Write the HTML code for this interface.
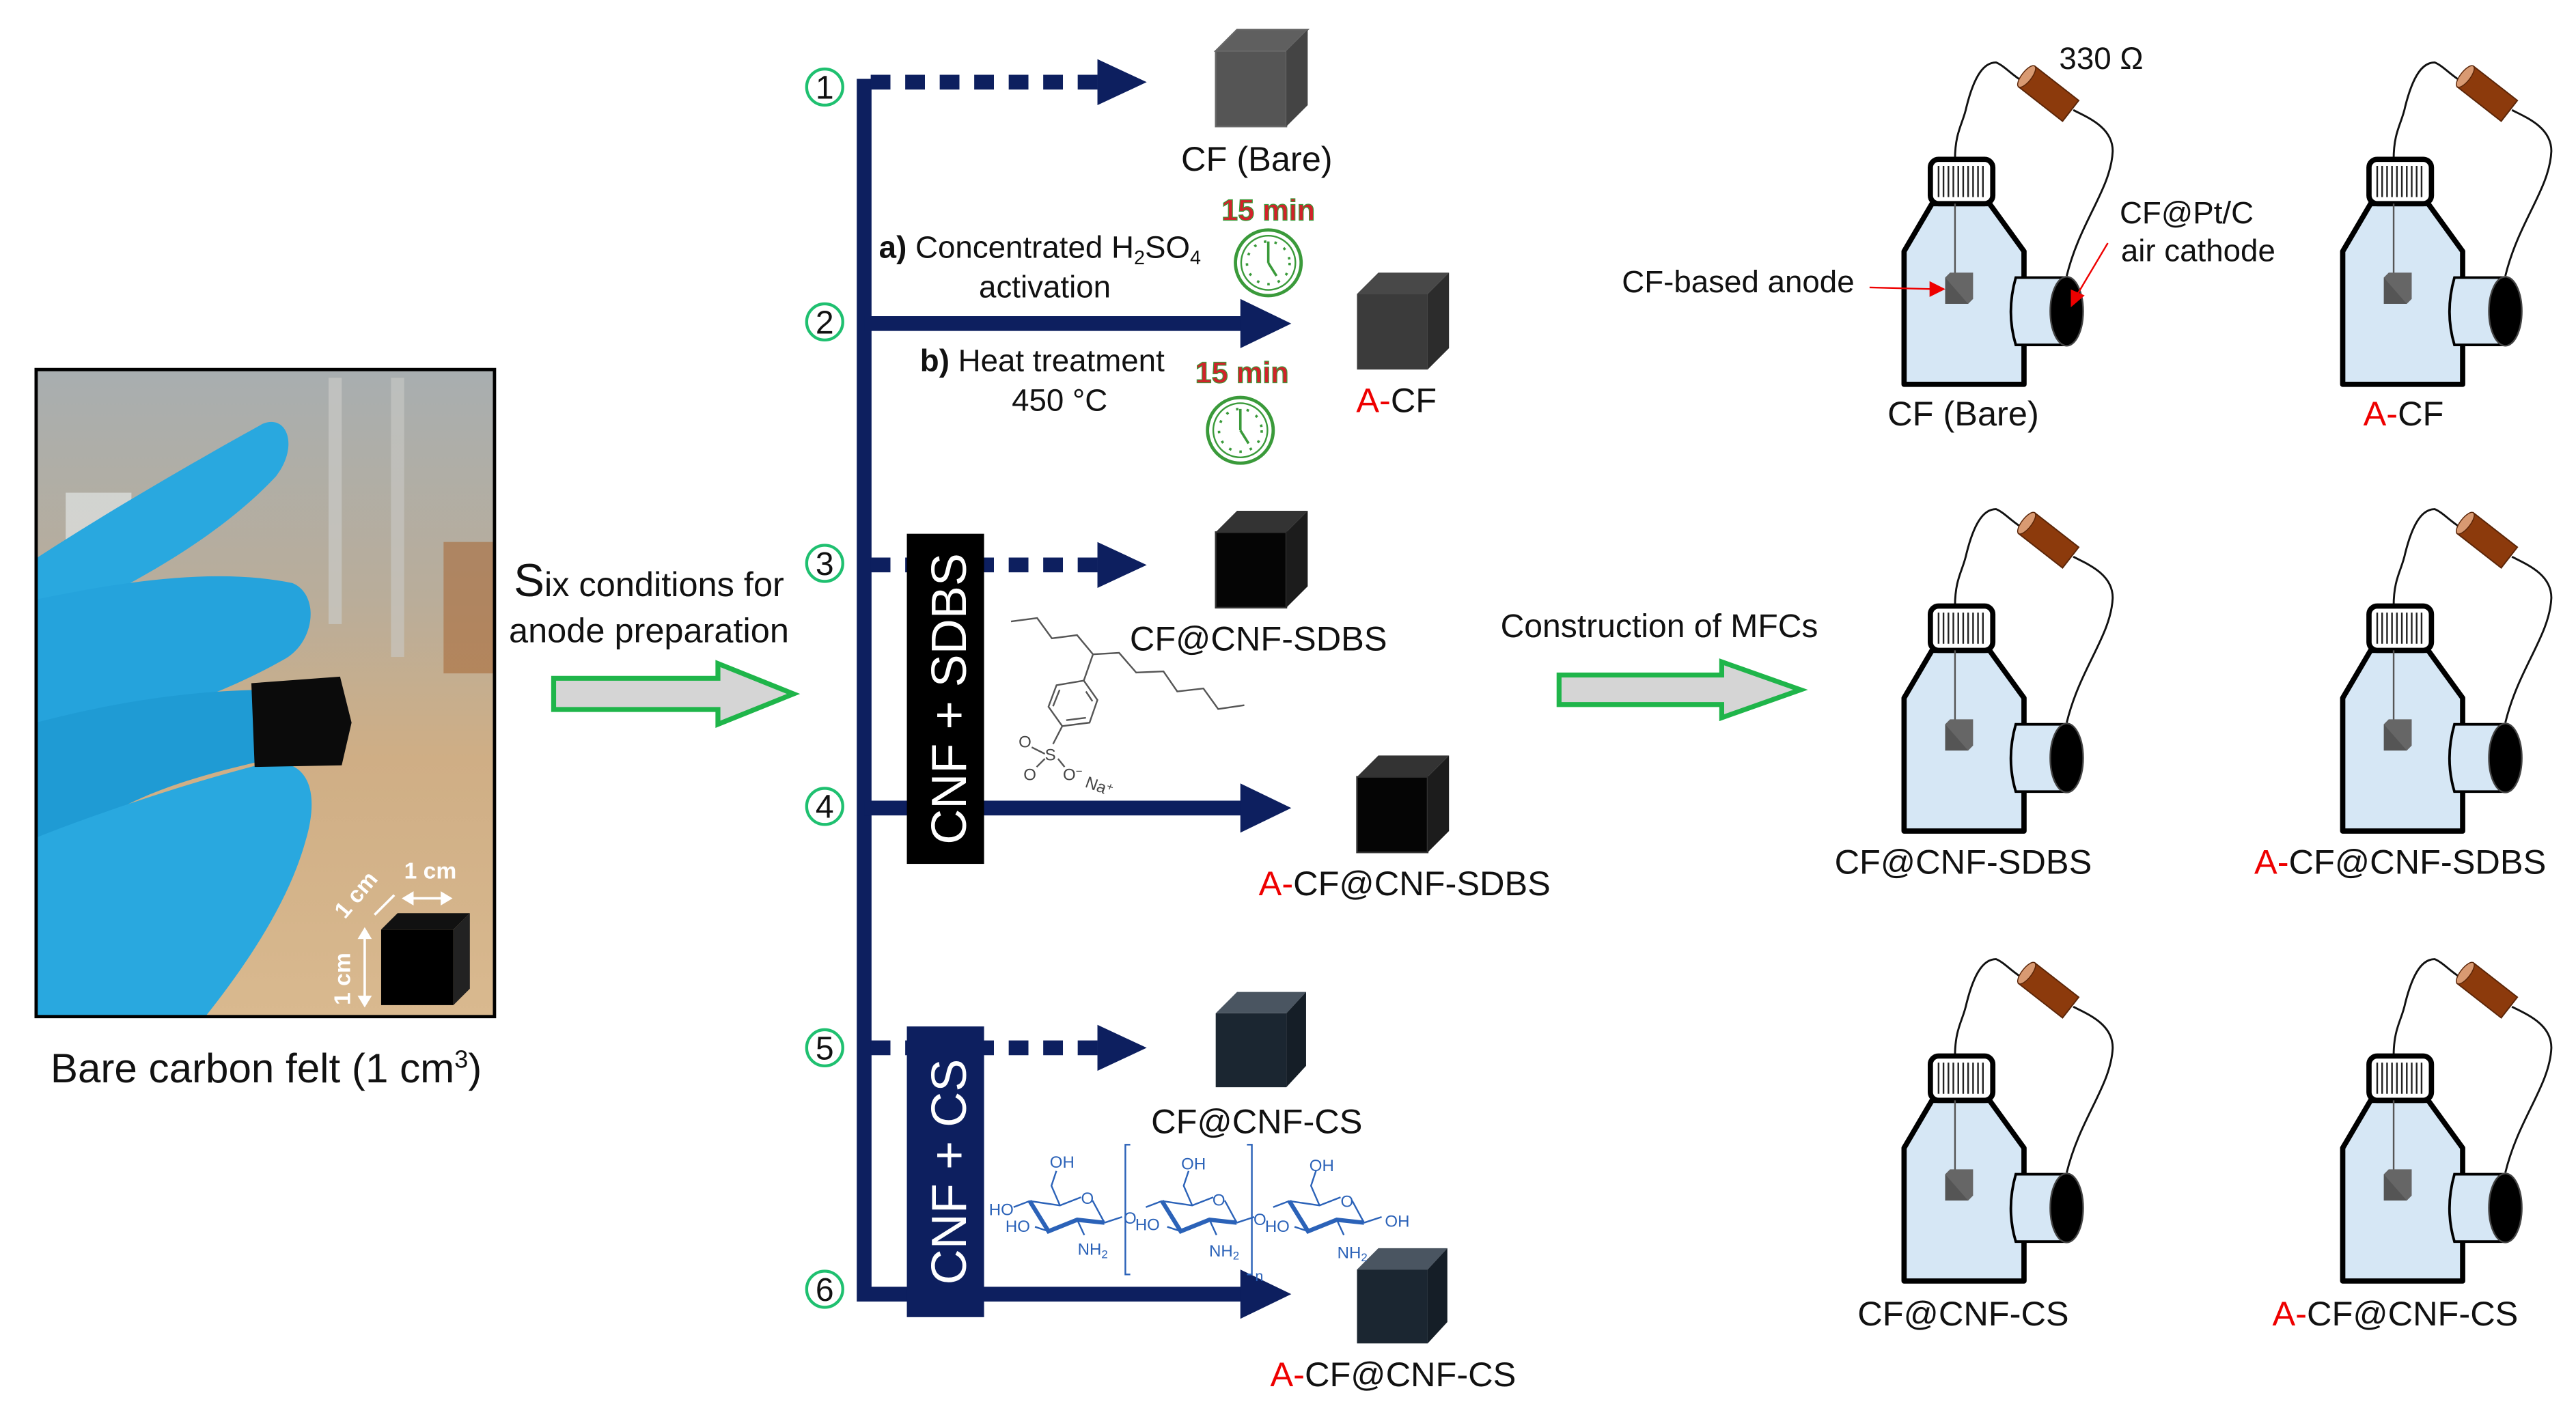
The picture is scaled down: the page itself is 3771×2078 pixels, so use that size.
<!DOCTYPE html>
<html><head><meta charset="utf-8">
<style>
html,body{margin:0;padding:0;background:#fff;}
svg{display:block;}
text{font-family:"Liberation Sans",Arial,sans-serif;}
</style></head>
<body>
<svg width="3771" height="2078" viewBox="0 0 1568 864" xmlns="http://www.w3.org/2000/svg">
<defs>
  <linearGradient id="bg" x1="0" y1="0" x2="0" y2="1">
    <stop offset="0" stop-color="#a8aeb0"/>
    <stop offset="0.35" stop-color="#b9ad9a"/>
    <stop offset="0.6" stop-color="#cfae85"/>
    <stop offset="1" stop-color="#d9b98f"/>
  </linearGradient>
  <g id="bottle">
    <path d="M1190,97 C1190,80 1195,75 1197,65 C1202,45 1208,38 1215,38 C1220,40 1225,46 1232,50" fill="none" stroke="#111" stroke-width="1.2"/>
    <path d="M1262,67 C1272,72 1286,78 1286,92 C1285,115 1266,135 1258,168" fill="none" stroke="#111" stroke-width="1.2"/>
    <g transform="translate(1247,57) rotate(38)">
      <rect x="-17" y="-8" width="34" height="16" fill="#8c3a0c" stroke="#5a2508" stroke-width="0.8"/>
      <ellipse cx="-17" cy="0" rx="3" ry="8" fill="#d99a72" stroke="#5a2508" stroke-width="0.6"/>
    </g>
    <path d="M1176,124 L1211,124 L1232,153 L1232,234 L1159,234 L1159,153 Z" fill="#d6e7f5" stroke="#000" stroke-width="3.2" stroke-linejoin="round"/>
    <path d="M1227,169 L1258,169 L1258,210 L1227,210 Q1221,190 1227,169 Z" fill="#d6e7f5" stroke="#000" stroke-width="1.6"/>
    <ellipse cx="1258" cy="189.5" rx="10" ry="21" fill="#000" stroke="#444" stroke-width="1"/>
    <rect x="1175" y="97" width="38" height="27" rx="5" fill="#fff" stroke="#000" stroke-width="3.2"/>
    <path d="M1180,101V120M1183,101V120M1186,101V120M1189,101V120M1192,101V120M1195,101V120M1198,101V120M1201,101V120M1204,101V120M1207,101V120" stroke="#222" stroke-width="1"/>
    <line x1="1190" y1="124" x2="1190" y2="168" stroke="#555" stroke-width="1"/>
    <rect x="1184" y="169" width="14" height="16" fill="#555"/>
    <path d="M1184,169 l3,-3 h14 v16 l-3,3" fill="#666"/>
  </g>
</defs>

<!-- ===== Photo ===== -->
<rect x="22" y="225" width="279" height="394" fill="url(#bg)"/>
<rect x="200" y="230" width="8" height="150" fill="#c9c9c6" opacity="0.7"/>
<rect x="238" y="230" width="8" height="170" fill="#c9c9c6" opacity="0.6"/>
<rect x="270" y="330" width="30" height="80" fill="#a86b3a" opacity="0.6"/>
<rect x="40" y="300" width="40" height="60" fill="#e8ecee" opacity="0.6"/>
<path d="M22,340 C60,315 120,280 160,258 C175,252 182,272 168,290 C140,320 100,345 60,365 L22,385 Z" fill="#29a8df"/>
<path d="M22,365 C70,355 130,345 178,355 C195,362 192,392 172,402 C140,420 110,430 80,440 L22,452 Z" fill="#25a3dc"/>
<path d="M22,440 C60,430 110,420 165,420 L165,462 C130,470 90,480 60,500 L22,520 Z" fill="#1f9bd4"/>
<path d="M22,510 C60,495 110,478 160,465 C188,460 195,482 186,512 C176,548 152,585 125,619 L22,619 Z" fill="#29a8df"/>
<path d="M153,416 L207,412 L214,440 L208,466 L155,467 Z" fill="#0b0b0b"/>
<rect x="232" y="566" width="44" height="46" fill="#000"/>
<path d="M232,566 l10,-10 h44 l-10,10 Z" fill="#111"/>
<path d="M276,566 l10,-10 v46 l-10,10 Z" fill="#222"/>
<g stroke="#fff" stroke-width="1.5" fill="#fff">
  <line x1="248" y1="547" x2="272" y2="547"/>
  <path d="M246,547 l5,-3 v6z M274,547 l-5,-3 v6z"/>
  <line x1="222" y1="568" x2="222" y2="610"/>
  <path d="M222,566 l-3,5 h6z M222,612 l-3,-5 h6z"/>
  <line x1="228" y1="557" x2="240" y2="545"/>
</g>
<text x="246" y="535" font-family="Liberation Serif,serif" font-weight="bold" font-size="14" fill="#fff">1 cm</text>
<text transform="translate(210,560) rotate(-50)" font-family="Liberation Serif,serif" font-weight="bold" font-size="14" fill="#fff">1 cm</text>
<text transform="translate(213,612) rotate(-90)" font-family="Liberation Serif,serif" font-weight="bold" font-size="14" fill="#fff">1 cm</text>
<rect x="22" y="225" width="279" height="394" fill="none" stroke="#000" stroke-width="2"/>
<text x="162" y="659" font-size="25" text-anchor="middle" fill="#111">Bare carbon felt (1 cm<tspan font-size="15" dy="-9">3</tspan><tspan dy="9">)</tspan></text>

<text x="395" y="363" font-size="21" text-anchor="middle" fill="#111"><tspan font-size="28">S</tspan>ix conditions for</text>
<text x="395" y="391" font-size="21" text-anchor="middle" fill="#111">anode preparation</text>
<path d="M337,413 L437,413 L437,404 L483,422.5 L437,441 L437,432 L337,432 Z" fill="#d5d5d5" stroke="#1fb54a" stroke-width="3"/>

<!-- ===== trunk ===== -->
<path d="M526,48 L526,788 L757,788" fill="none" stroke="#0d1f5f" stroke-width="9"/>
<g stroke="#0d1f5f" stroke-width="9" fill="none">
  <line x1="530" y1="50" x2="672" y2="50" stroke-dasharray="12 9"/>
  <line x1="530" y1="344" x2="672" y2="344" stroke-dasharray="12 9"/>
  <line x1="530" y1="638" x2="672" y2="638" stroke-dasharray="12 9"/>
  <line x1="526" y1="197" x2="758" y2="197"/>
  <line x1="526" y1="492" x2="758" y2="492"/>
</g>
<g fill="#0d1f5f">
  <path d="M668,36 L698,50 L668,64Z"/>
  <path d="M668,330 L698,344 L668,358Z"/>
  <path d="M668,624 L698,638 L668,652Z"/>
  <path d="M755,182 L786,197 L755,212Z"/>
  <path d="M755,477 L786,492 L755,507Z"/>
  <path d="M755,773 L786,788 L755,803Z"/>
</g>
<g font-size="20" text-anchor="middle" fill="#111">
  <circle cx="502" cy="53" r="11" fill="#fff" stroke="#1fc070" stroke-width="1.8"/><text x="502" y="60">1</text>
  <circle cx="502" cy="196" r="11" fill="#fff" stroke="#1fc070" stroke-width="1.8"/><text x="502" y="203">2</text>
  <circle cx="502" cy="343" r="11" fill="#fff" stroke="#1fc070" stroke-width="1.8"/><text x="502" y="350">3</text>
  <circle cx="502" cy="491" r="11" fill="#fff" stroke="#1fc070" stroke-width="1.8"/><text x="502" y="498">4</text>
  <circle cx="502" cy="638" r="11" fill="#fff" stroke="#1fc070" stroke-width="1.8"/><text x="502" y="645">5</text>
  <circle cx="502" cy="785" r="11" fill="#fff" stroke="#1fc070" stroke-width="1.8"/><text x="502" y="792">6</text>
</g>

<rect x="552" y="325" width="47" height="201" fill="#000"/>
<text transform="translate(588,425.5) rotate(-90)" font-size="30" text-anchor="middle" fill="#fff">CNF + SDBS</text>
<rect x="552" y="625" width="47" height="177" fill="#0d1f5f"/>
<text transform="translate(588,713.5) rotate(-90)" font-size="30" text-anchor="middle" fill="#fff">CNF + CS</text>

<text x="535" y="157" font-size="19" fill="#111"><tspan font-weight="bold">a)</tspan> Concentrated H<tspan font-size="12" dy="4">2</tspan><tspan dy="-4">SO</tspan><tspan font-size="12" dy="4">4</tspan></text>
<text x="636" y="181" font-size="19" text-anchor="middle" fill="#111">activation</text>
<text x="560" y="226" font-size="19" fill="#111"><tspan font-weight="bold">b)</tspan> Heat treatment</text>
<text x="645" y="250" font-size="19" text-anchor="middle" fill="#111">450 °C</text>
<text x="772" y="134" font-size="18" font-weight="bold" text-anchor="middle" fill="#d2222a" stroke="#3a9a3a" stroke-width="0.5">15 min</text>
<text x="756" y="233" font-size="18" font-weight="bold" text-anchor="middle" fill="#d2222a" stroke="#3a9a3a" stroke-width="0.5">15 min</text>
<g fill="#fff" stroke="#3a9a3a">
  <circle cx="772" cy="160" r="20" stroke-width="2"/><circle cx="772" cy="160" r="16.5" stroke-width="1"/>
  <circle cx="772" cy="160" r="13" stroke-width="1.5" stroke-dasharray="1.5 5" fill="none"/>
  <path d="M772,160 V147 M772,160 L777,168" stroke-width="1.5" fill="none"/>
  <circle cx="755" cy="262" r="20" stroke-width="2"/><circle cx="755" cy="262" r="16.5" stroke-width="1"/>
  <circle cx="755" cy="262" r="13" stroke-width="1.5" stroke-dasharray="1.5 5" fill="none"/>
  <path d="M755,262 V249 M755,262 L760,270" stroke-width="1.5" fill="none"/>
</g>

<g>
  <rect x="740" y="31" width="43" height="46" fill="#555" stroke="#666"/><path d="M740,31 L753,18 L796,18 L783,31Z" fill="#5f5f5f" stroke="#666"/><path d="M783,31 L796,18 L796,64 L783,77Z" fill="#444"/>
  <rect x="826" y="179" width="43" height="46" fill="#3b3b3b"/><path d="M826,179 L839,166 L882,166 L869,179Z" fill="#484848"/><path d="M869,179 L882,166 L882,212 L869,225Z" fill="#2c2c2c"/>
  <rect x="740" y="324" width="43" height="46" fill="#050505" stroke="#333"/><path d="M740,324 L753,311 L796,311 L783,324Z" fill="#333"/><path d="M783,324 L796,311 L796,357 L783,370Z" fill="#1c1c1c"/>
  <rect x="826" y="473" width="43" height="46" fill="#050505" stroke="#333"/><path d="M826,473 L839,460 L882,460 L869,473Z" fill="#333"/><path d="M869,473 L882,460 L882,506 L869,519Z" fill="#1c1c1c"/>
  <rect x="740" y="617" width="43" height="45" fill="#1b2631"/><path d="M740,617 L753,604 L795,604 L783,617Z" fill="#4a5561"/><path d="M783,617 L795,604 L795,649 L783,662Z" fill="#151e27"/>
  <rect x="826" y="773" width="43" height="45" fill="#1b2631"/><path d="M826,773 L839,760 L881,760 L869,773Z" fill="#4a5561"/><path d="M869,773 L881,760 L881,805 L869,818Z" fill="#151e27"/>
</g>
<g font-size="21" text-anchor="middle" fill="#111">
  <text x="765" y="104">CF (Bare)</text>
  <text x="850" y="251"><tspan fill="#e00">A-</tspan>CF</text>
  <text x="766" y="396">CF@CNF-SDBS</text>
  <text x="855" y="545"><tspan fill="#e00">A-</tspan>CF@CNF-SDBS</text>
  <text x="765" y="690">CF@CNF-CS</text>
  <text x="848" y="844"><tspan fill="#e00">A-</tspan>CF@CNF-CS</text>
</g>

<g stroke="#555" stroke-width="1" fill="none">
  <polyline points="615.4,378.4 631.3,376.3 640.3,388.7 655.6,386.7 665.3,398.4 681.2,397.5 691.6,409.5 708.2,408.8 716.6,421 732.5,419.2 741.5,431.7 757.4,429.4"/>
  <line x1="665.3" y1="398.4" x2="659.7" y2="414.4"/>
  <polygon points="659.7,414.4 668,426.2 663.2,440 646.6,442.1 638.2,430.3 643.1,417.2"/>
  <path d="M661,421 L665,427 M661,437 L649,438.5 M641,430 L645,420"/>
  <line x1="646.6" y1="442.1" x2="641" y2="453"/>
  <line x1="636" y1="459" x2="628" y2="455"/><line x1="636" y1="462" x2="631" y2="467"/><line x1="644" y1="462" x2="648" y2="467"/>
</g>
<g font-size="10" fill="#444">
  <text x="636" y="463">S</text><text x="620" y="455">O</text><text x="623" y="475">O</text><text x="647" y="475">O<tspan font-size="7" dy="-3">−</tspan></text>
  <text transform="translate(660,479) rotate(20)">Na<tspan font-size="7" dy="-3">+</tspan></text>
</g>

<g stroke="#2b62b8" fill="none" stroke-width="1">
  <g id="ring">
    <path d="M626.8,731.3 L645.2,734 L658,729 M665,731 L672.3,744.5"/>
    <path d="M626.8,731.3 L638.2,749.7 L655.7,742.7 L672.3,744.5" stroke-width="2.6"/>
    <path d="M645.2,734 L640,722 L643,713 M626.8,731.3 L617,735 M638.2,749.7 L630,747 M655.7,742.7 L660,752 M672.3,744.5 L683,741"/>
  </g>
  <use href="#ring" transform="translate(80.5,0)"/>
  <use href="#ring" transform="translate(158,0)"/>
  <path d="M688,697 h-3 v79 h3 M759,697 h3 v79 h-3"/>
</g>
<g font-size="10" fill="#2b62b8">
  <text x="639" y="711">OH</text><text x="719" y="712">OH</text><text x="797" y="713">OH</text>
  <text x="658" y="733">O</text><text x="738" y="734">O</text><text x="816" y="735">O</text>
  <text x="602" y="740">HO</text><text x="612" y="750">HO</text><text x="691" y="749">HO</text><text x="770" y="750">HO</text>
  <text x="656" y="764">NH<tspan font-size="7" dy="2">2</tspan></text><text x="736" y="765">NH<tspan font-size="7" dy="2">2</tspan></text><text x="814" y="766">NH<tspan font-size="7" dy="2">2</tspan></text>
  <text x="684" y="745">O</text><text x="763" y="746">O</text><text x="843" y="747">OH</text>
  <text x="764" y="780" font-size="9">n</text>
</g>

<text x="1010" y="388" font-size="20" text-anchor="middle" fill="#111">Construction of MFCs</text>
<path d="M949,411 L1048,411 L1048,403 L1096,420 L1048,437 L1048,429 L949,429 Z" fill="#d5d5d5" stroke="#1fb54a" stroke-width="3"/>

<use href="#bottle"/>
<use href="#bottle" transform="translate(267,0)"/>
<use href="#bottle" transform="translate(0,272)"/>
<use href="#bottle" transform="translate(267,272)"/>
<use href="#bottle" transform="translate(0,546)"/>
<use href="#bottle" transform="translate(267,546)"/>

<text x="1279" y="42" font-size="19" text-anchor="middle" fill="#111">330 Ω</text>
<text x="1331" y="136" font-size="19" text-anchor="middle" fill="#111">CF@Pt/C</text>
<text x="1338" y="159" font-size="19" text-anchor="middle" fill="#111">air cathode</text>
<text x="1058" y="178" font-size="19" text-anchor="middle" fill="#111">CF-based anode</text>
<g stroke="#e00" stroke-width="1" fill="#e00">
  <line x1="1138" y1="175" x2="1176" y2="176"/><path d="M1183,176 l-8,-4 v8z"/>
  <line x1="1283" y1="148" x2="1264" y2="180"/><path d="M1261,186 l0,-9 l7,3z"/>
</g>
<g font-size="21" text-anchor="middle" fill="#111">
  <text x="1195" y="259">CF (Bare)</text>
  <text x="1463" y="259"><tspan fill="#e00">A-</tspan>CF</text>
  <text x="1195" y="532">CF@CNF-SDBS</text>
  <text x="1461" y="532"><tspan fill="#e00">A-</tspan>CF@CNF-SDBS</text>
  <text x="1195" y="807">CF@CNF-CS</text>
  <text x="1458" y="807"><tspan fill="#e00">A-</tspan>CF@CNF-CS</text>
</g>
</svg>
</body></html>
